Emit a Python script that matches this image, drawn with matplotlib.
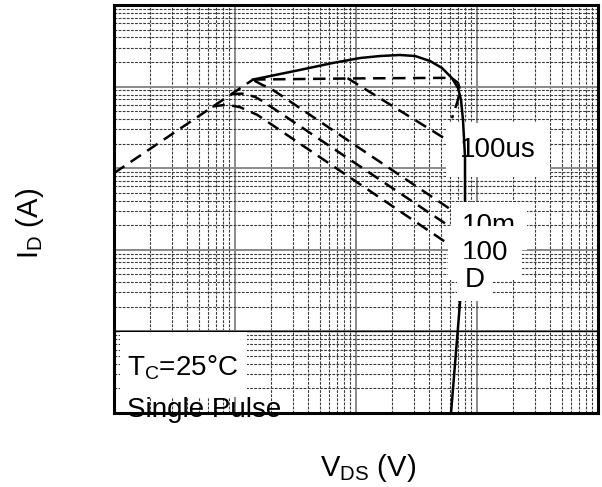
import matplotlib.pyplot as plt
from matplotlib.patches import Rectangle
from matplotlib.ticker import LogLocator, NullFormatter

plt.rcParams['font.family'] = 'Liberation Sans'
plt.rcParams['mathtext.fontset'] = 'custom'
plt.rcParams['mathtext.rm'] = 'Liberation Sans'
plt.rcParams['mathtext.it'] = 'Liberation Sans:italic'
plt.rcParams['mathtext.bf'] = 'Liberation Sans:bold'

# -----------------------
# Data (V in volts, I in amps)
# -----------------------
# R_DS(on) limit
rds_v = [0.1, 1.41]
rds_i = [8.7, 122]

# solid outer limit
env_v = [1.41, 3.44, 6.45, 10.8, 15.8, 23.1, 30.8, 40.9, 51.4, 62.1, 69.7, 73.8, 76.6, 79.6, 79.6, 73.8, 61.0]
env_i = [122, 160, 195, 224, 237, 244, 237, 206, 169, 127, 96, 68.6, 39, 13.7, 4.07, 0.32, 0.01]

# flat dashed top with hook
top_v = [1.41, 10, 56.5, 63.4, 69.7, 72.4, 69.7, 62.1]
top_i = [122, 126, 128, 124, 111, 91, 69, 41]

# descending pulse lines
a_v = [8.5, 62.1]
a_i = [127, 20.4]

b_v = [1.45, 1.70, 1.95, 62.1]
b_i = [118, 104, 96, 3.05]

c_v = [0.93, 1.15, 1.46, 1.70, 62.1]
c_i = [81, 82, 75, 66, 1.85]

d_v = [0.65, 0.85, 1.10, 1.53, 62.1]
d_i = [57, 60, 56, 45, 1.1]

curve_labels = ["100us", "10m", "100", "D"]

# -----------------------
# Plot
# -----------------------
fig = plt.figure(figsize=(6.02, 4.87), dpi=100)
ax = fig.add_axes([114 / 602, 74 / 487, 484 / 602, 408 / 487])
ax.set_xscale("log")
ax.set_yscale("log")
ax.set_xlim(0.1, 1000)
ax.set_ylim(0.01, 1000)

for axis in (ax.xaxis, ax.yaxis):
    axis.set_major_locator(LogLocator(base=10, numticks=20))
    axis.set_minor_locator(LogLocator(base=10, subs=range(2, 10), numticks=20))
    axis.set_major_formatter(NullFormatter())
    axis.set_minor_formatter(NullFormatter())
ax.tick_params(which="both", length=0)

ax.set_axisbelow(True)
ax.grid(which="minor", color="#3a3a3a", linestyle=(0, (2.5, 1.2)), linewidth=0.8)
ax.grid(which="major", color="#8a8a8a", linestyle="-", linewidth=1.4)
ax.axhline(0.1, color="black", linewidth=1.0, zorder=1)

for s in ax.spines.values():
    s.set_linewidth(2.2)
    s.set_color("black")

dash = (0, (5, 3))
lw = 1.8
ax.plot(rds_v, rds_i, color="black", linestyle=dash, linewidth=lw, zorder=3)
ax.plot(top_v, top_i, color="black", linestyle=dash, linewidth=lw, zorder=3)
ax.plot(a_v, a_i, color="black", linestyle=dash, linewidth=lw, zorder=3)
ax.plot(b_v, b_i, color="black", linestyle=dash, linewidth=lw, zorder=3)
ax.plot(c_v, c_i, color="black", linestyle=dash, linewidth=lw, zorder=3)
ax.plot(d_v, d_i, color="black", linestyle=dash, linewidth=lw, zorder=3)
ax.plot(env_v, env_i, color="black", linestyle="-", linewidth=1.8, zorder=4.5)

# curve labels, each boxed in white and stacked over the one before
label_pos = [(0.715, 0.627, 0.5), (0.719, 0.441, 0.4), (0.719, 0.375, 0.5), (0.725, 0.309, 0.3)]
for k, (txt, (lx, ly, pad)) in enumerate(zip(curve_labels, label_pos)):
    z = 4 if k == 0 else 5 + k
    ax.text(lx, ly, txt, transform=ax.transAxes, fontsize=20, ha="left", va="baseline",
            zorder=z, bbox=dict(boxstyle=f"square,pad={pad}", facecolor="white", edgecolor="none"))

# condition note
ax.add_patch(Rectangle((0.012, 0.039), 0.263, 0.160, transform=ax.transAxes,
                       facecolor="white", edgecolor="none", zorder=2.2))
ax.text(0.027, 0.093, r"T$_\mathrm{C}$=25°C", transform=ax.transAxes, fontsize=20,
        ha="left", va="baseline", zorder=2.3)
ax.text(0.027, -0.011, "Single Pulse", transform=ax.transAxes, fontsize=20,
        ha="left", va="baseline", zorder=2.3)

fig.text(368 / 602, (487 - 476) / 487, r"V$_\mathrm{DS}$ (V)", fontsize=21,
         ha="center", va="baseline")
fig.text(38 / 602, (487 - 223) / 487, r"I$_\mathrm{D}$ (A)", fontsize=21,
         rotation=90, rotation_mode="anchor", ha="center", va="baseline")

fig.savefig("out.png", dpi=100)
